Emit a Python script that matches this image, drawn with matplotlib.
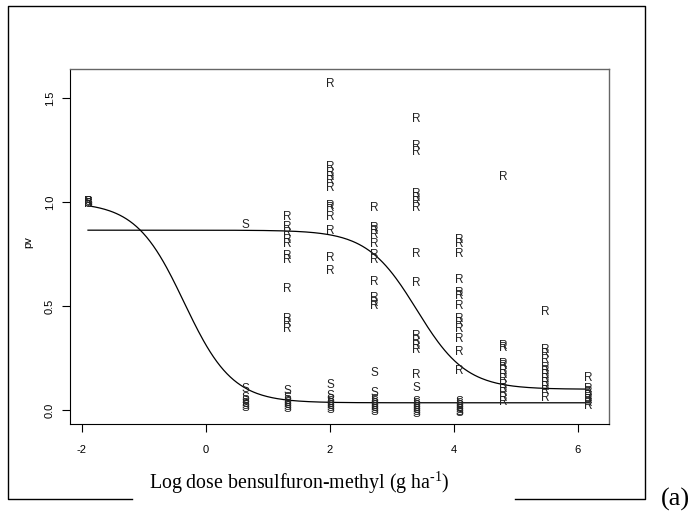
import matplotlib
matplotlib.use("Agg")
import matplotlib.pyplot as plt
from matplotlib.lines import Line2D
import numpy as np

plt.rcParams['font.family'] = ['Liberation Sans', 'DejaVu Sans']
plt.rcParams['mathtext.fontset'] = 'custom'
plt.rcParams['mathtext.rm'] = 'Liberation Serif'
plt.rcParams['axes.unicode_minus'] = False

# log dose levels
doses = [-1.90, 0.63, 1.32, 2.01, 2.71, 3.40, 4.09, 4.79, 5.48, 6.17]

# resistant (R) responses per dose
pv_R = [
    [1.00, 1.00, 0.99],
    [],
    [0.93, 0.88, 0.85, 0.82, 0.80, 0.74, 0.72, 0.58, 0.44, 0.42, 0.39],
    [1.57, 1.17, 1.14, 1.12, 1.10, 1.07, 0.98, 0.97, 0.93, 0.86, 0.73, 0.67],
    [0.97, 0.875, 0.86, 0.84, 0.80, 0.745, 0.72, 0.615, 0.54, 0.515, 0.50],
    [1.40, 1.27, 1.24, 1.04, 1.02, 1.00, 0.97, 0.75, 0.61, 0.355, 0.33, 0.31, 0.29, 0.17],
    [0.82, 0.80, 0.75, 0.625, 0.565, 0.55, 0.50, 0.44, 0.42, 0.39, 0.34, 0.28, 0.19],
    [1.12, 0.31, 0.30, 0.22, 0.21, 0.19, 0.17, 0.15, 0.12, 0.10, 0.08, 0.06, 0.04],
    [0.47, 0.29, 0.27, 0.24, 0.20, 0.19, 0.17, 0.15, 0.13, 0.11, 0.09, 0.06],
    [0.155, 0.10, 0.085, 0.07, 0.06, 0.05, 0.035, 0.02],
]

# susceptible (S) responses per dose
pv_S = [
    [1.00, 0.99],
    [0.89, 0.10, 0.06, 0.045, 0.03, 0.02, 0.01],
    [0.09, 0.06, 0.045, 0.035, 0.025, 0.015, 0.005],
    [0.12, 0.07, 0.05, 0.04, 0.03, 0.02, 0.01, 0.0],
    [0.18, 0.08, 0.05, 0.04, 0.03, 0.02, 0.01, 0.0, -0.01],
    [0.105, 0.04, 0.03, 0.02, 0.01, 0.0, -0.01, -0.02],
    [0.04, 0.03, 0.02, 0.01, 0.0, -0.01, -0.015],
    [], [], [],
]

# fitted log-logistic curves: lower, upper, slope, ED50 (log scale)
fit_S = [0.035, 1.0, 2.57, -0.35]
fit_R = [0.10, 0.865, 2.5, 3.40]

W, H = 691, 512
fig = plt.figure(figsize=(W / 100, H / 100), dpi=100)
ax = fig.add_axes([70 / W, 1 - 424 / H, 539 / W, 355 / H])

for x, vals in zip(doses, pv_R):
    for v in vals:
        ax.text(x, v, "R", ha="center", va="center", fontsize=8.5, color="#222222")
for x, vals in zip(doses, pv_S):
    for v in vals:
        ax.text(x, v, "S", ha="center", va="center", fontsize=8.5, color="#222222")

xx = np.linspace(doses[0], doses[-1], 300)
for c, d, b, e in (fit_S, fit_R):
    ax.plot(xx, c + (d - c) / (1 + np.exp(b * (xx - e))), color="black", lw=0.9)

ax.set_xlim(-2.19, 6.5)
ax.set_ylim(-0.067, 1.64)
ax.set_xticks([-2, 0, 2, 4, 6])
ax.set_yticks([0.0, 0.5, 1.0, 1.5])
ax.set_yticklabels(["0.0", "0.5", "1.0", "1.5"], rotation=90, va="center")
ax.tick_params(labelsize=8, length=6, width=0.8)
ax.tick_params(axis="x", pad=9)
ax.tick_params(axis="y", pad=5)
for s in ["left", "bottom"]:
    ax.spines[s].set_color("black")
    ax.spines[s].set_linewidth(0.8)
for s in ["top", "right"]:
    ax.spines[s].set_color("#666666")
    ax.spines[s].set_linewidth(1.0)

fig.text(28 / W, 1 - 242 / H, "pv", rotation=90, fontsize=8, ha="center", va="center")
fig.text(299 / W, 1 - 483 / H, "Log dose bensulfuron-methyl (g ha$^{\\text{-1}}$)",
         family="Liberation Serif", fontsize=14.3, ha="center", va="center")
fig.text(675 / W, 1 - 499 / H, "(a)", family="Liberation Serif", fontsize=19,
         ha="center", va="center")

# outer frame with a gap for the axis title
def fx(p):
    return [q / W for q in p]

def fy(p):
    return [1 - q / H for q in p]

fig.add_artist(Line2D(fx([515, 645, 645, 8, 8, 132]), fy([499, 499, 6, 6, 499, 499]),
                      color="black", lw=1.0))

fig.savefig("out.png", dpi=100)
